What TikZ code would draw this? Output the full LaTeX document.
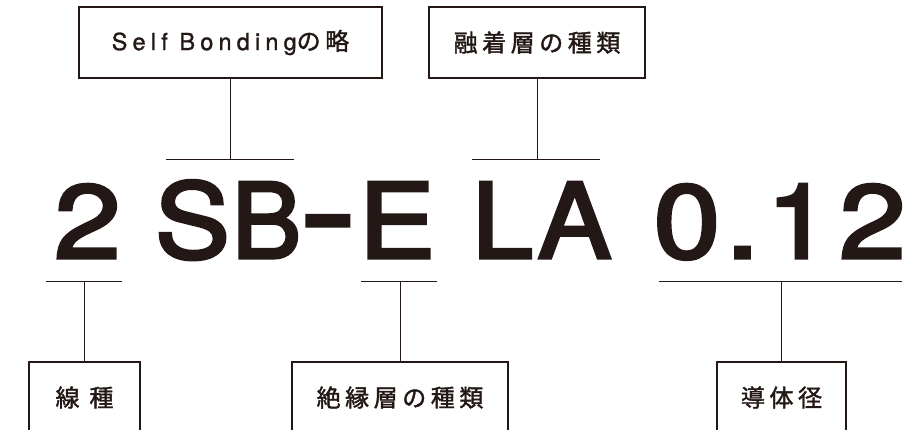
\documentclass[tikz,border=0pt]{standalone}
\usepackage{fontspec}
\newfontfamily\jpfont[LetterSpace=19,FakeBold=1.6]{Noto Sans CJK JP}
\newfontfamily\latfont[LetterSpace=22,FakeBold=1.2]{TeX Gyre Heros}
\newfontfamily\bigfont[FakeBold=3]{TeX Gyre Heros}
\definecolor{ink}{HTML}{231815}
\tikzset{
  labelbox/.style={draw=ink, line width=1.4pt, minimum height=71pt, inner sep=0pt,
    text=ink, font=\jpfont\fontsize{24}{24}\selectfont},
  bigchar/.style={anchor=base, inner sep=0pt, text=ink,
    font=\bigfont\fontsize{104}{104}\selectfont},
  conn/.style={draw=ink, line width=0.9pt},
}
\begin{document}
\begin{tikzpicture}[x=1pt,y=-1pt]
\useasboundingbox (0,0) rectangle (917,430);
\clip (0,0) rectangle (917,430);
% top boxes
\node[labelbox, minimum width=303pt] (sb) at (230.5,42.5) {{\latfont\fontsize{23.5}{24}\selectfont Self Bonding}の略\hspace{-4.5pt}};
\node[labelbox, minimum width=216pt] (la) at (537,42.5) {融着層の種類\hspace{-4.5pt}};
% bottom boxes
\node[labelbox, minimum width=111pt] (wt) at (84.5,397.5) {線 種\hspace{-4.5pt}};
\node[labelbox, minimum width=216pt] (ins) at (400,397.5) {絶縁層の種類\hspace{-4.5pt}};
\node[labelbox, minimum width=129pt] (dia) at (781.5,397.5) {導体径\hspace{-4.5pt}};
% big code
\node[bigchar] (c1) at (87.5,258) {\scalebox{1.15}[1]{2}};
\node[bigchar] (c2) at (192.5,258) {\scalebox{1.08}[1]{S}};
\node[bigchar] (c3) at (266.5,258) {\scalebox{1.0}[1]{B}};
\node[bigchar] (c4) at (328,258) {\scalebox{0.74}[1.3]{–}};
\node[bigchar] (c5) at (397,258) {\scalebox{1.1}[1]{E}};
\node[bigchar] (c6) at (502.5,258) {\scalebox{1.05}[1]{L}};
\node[bigchar] (c7) at (574.5,258) {\scalebox{1.06}[1]{A}};
\node[bigchar] (c8) at (687,258) {\scalebox{1.15}[1]{0}};
\node[bigchar] (c9) at (742.5,258) {\scalebox{1.2}[1]{.}};
\node[bigchar] (c10) at (798.5,258) {\scalebox{1.1}[1]{1}};
\node[bigchar] (c11) at (872.5,258) {\scalebox{1.15}[1]{2}};
% bars
\coordinate (b1l) at (166,159); \coordinate (b1r) at (294,159);
\coordinate (b2l) at (472,159); \coordinate (b2r) at (600,159);
\coordinate (b3l) at (46,281);  \coordinate (b3r) at (122,281);
\coordinate (b4l) at (361,281); \coordinate (b4r) at (437,281);
\coordinate (b5l) at (659,281); \coordinate (b5r) at (902,281);
\draw[conn] (b1l) -- (b1r);
\draw[conn] (b2l) -- (b2r);
\draw[conn] (b3l) -- (b3r);
\draw[conn] (b4l) -- (b4r);
\draw[conn] (b5l) -- (b5r);
\draw[conn] (sb.south) -- (sb.south |- b1l);
\draw[conn] (la.south) -- (la.south |- b2l);
\draw[conn] (wt.north) -- (wt.north |- b3l);
\draw[conn] (ins.north) -- (ins.north |- b4l);
\draw[conn] (dia.north) -- (dia.north |- b5l);
\end{tikzpicture}
\end{document}
